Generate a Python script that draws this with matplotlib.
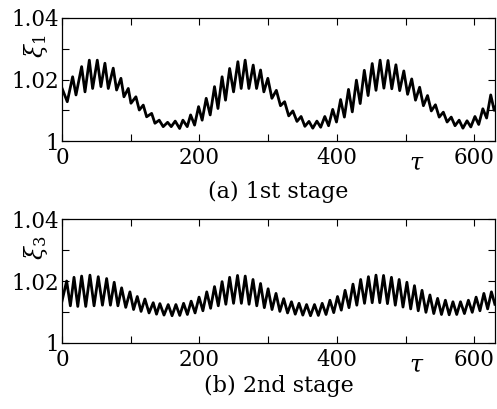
import matplotlib
matplotlib.use('Agg')
import matplotlib.pyplot as plt

# extrema of xi_1 (1st stage): tau, value
tau1 = [0, 7.7, 15.5, 20.4, 28.6, 33.5, 39.8, 44.6, 51.4, 56.7,
        62.5, 67.4, 74.6, 79.5, 85.8, 90.2, 96.5, 100.4, 107.6, 112.5,
        118.3, 123.2, 130.5, 135.3, 141.5, 147.3, 153.7, 159, 164.8, 171.2,
        176, 182.3, 187.2, 193, 198.8, 204, 209.9, 215.7, 222, 227,
        233, 238, 244, 249.7, 256, 260.8, 266.6, 272, 278.3, 283.2,
        289, 293.8, 299.6, 305.5, 312, 318, 324, 330, 336, 342,
        348, 353.5, 359.5, 365, 371, 376.5, 382.5, 388, 394, 399.5,
        405.5, 411, 417, 422.5, 428.5, 434, 440, 445.5, 451.5, 457,
        463, 468.5, 474.5, 480, 486, 491.5, 497.5, 503, 509, 514.5,
        520.5, 526, 532, 537.5, 543.5, 549, 555, 560.5, 566.5, 572,
        578, 583.5, 589.5, 595, 601, 606.5, 612.5, 618, 624, 629,
        630]
xi1 = [1.0172, 1.0128, 1.0209, 1.0150, 1.0242, 1.0160, 1.0263, 1.0171, 1.0263, 1.0177,
       1.0253, 1.0171, 1.0237, 1.0166, 1.0204, 1.0144, 1.0171, 1.0123, 1.0144, 1.0101,
       1.0117, 1.0079, 1.0090, 1.0058, 1.0068, 1.0047, 1.0061, 1.0047, 1.0065, 1.0041,
       1.0068, 1.0047, 1.0085, 1.0052, 1.0112, 1.0068, 1.0139, 1.0085, 1.0177, 1.0106,
       1.0209, 1.0133, 1.0236, 1.0160, 1.0258, 1.0171, 1.0263, 1.0171, 1.0247, 1.0171,
       1.0231, 1.0160, 1.0204, 1.0139, 1.0165, 1.0115, 1.0128, 1.0082, 1.0098, 1.0064,
       1.0080, 1.0048, 1.0064, 1.0042, 1.0065, 1.0045, 1.0080, 1.0050, 1.0103, 1.0062,
       1.0135, 1.0078, 1.0168, 1.0095, 1.0198, 1.0122, 1.0230, 1.0148, 1.0252, 1.0165,
       1.0263, 1.0172, 1.0262, 1.0170, 1.0248, 1.0164, 1.0228, 1.0152, 1.0202, 1.0133,
       1.0175, 1.0115, 1.0148, 1.0098, 1.0118, 1.0078, 1.0094, 1.0062, 1.0078, 1.0050,
       1.0068, 1.0042, 1.0066, 1.0046, 1.0080, 1.0054, 1.0105, 1.0075, 1.0150, 1.0100,
       1.0110]

# extrema of xi_3 (2nd stage)
tau3 = [0, 6.8, 12.2, 17.5, 23, 28.6, 34.6, 40.7, 46.7, 52.8,
        58.9, 65, 70.5, 76, 81.4, 86.8, 92.8, 98.9, 104.2, 109.6,
        115.1, 120.7, 126.7, 132.8, 137.6, 142.5, 148.5, 154.6, 160.2, 165.8,
        171.4, 177, 182.5, 188, 193.7, 199.5, 205.1, 210.7, 216.3, 222,
        227.5, 233, 238.5, 244, 249.7, 255.5, 261.1, 266.7, 272.3, 278,
        283.5, 289, 294.5, 300, 305.7, 311.5, 317.1, 322.7, 328.3, 334,
        339.5, 345, 350.5, 356, 361.7, 367.5, 373.1, 378.7, 384.3, 390,
        395.5, 401, 406.5, 412, 417.7, 423.5, 429.1, 434.7, 440.3, 446,
        451.5, 457, 462.5, 468, 473.7, 479.5, 485.1, 490.7, 496.3, 502,
        507.5, 513, 518.5, 524, 529.7, 535.5, 541.1, 546.7, 552.3, 558,
        563.5, 569, 574.5, 580, 585.7, 591.5, 597.1, 602.7, 608.3, 614,
        619.5, 625, 630]
xi3 = [1.0135, 1.0200, 1.0120, 1.0212, 1.0118, 1.0216, 1.0118, 1.0219, 1.0120, 1.0214,
       1.0122, 1.0208, 1.0122, 1.0196, 1.0120, 1.0178, 1.0115, 1.0165, 1.0108, 1.0150,
       1.0102, 1.0142, 1.0097, 1.0130, 1.0093, 1.0127, 1.0090, 1.0124, 1.0088, 1.0124,
       1.0089, 1.0128, 1.0092, 1.0135, 1.0097, 1.0148, 1.0104, 1.0165, 1.0112, 1.0182,
       1.0120, 1.0198, 1.0125, 1.0212, 1.0128, 1.0218, 1.0128, 1.0216, 1.0125, 1.0205,
       1.0120, 1.0192, 1.0114, 1.0175, 1.0108, 1.0160, 1.0102, 1.0143, 1.0097, 1.0133,
       1.0093, 1.0128, 1.0090, 1.0124, 1.0088, 1.0124, 1.0089, 1.0128, 1.0092, 1.0138,
       1.0098, 1.0150, 1.0106, 1.0170, 1.0114, 1.0190, 1.0122, 1.0205, 1.0128, 1.0214,
       1.0130, 1.0219, 1.0130, 1.0218, 1.0127, 1.0212, 1.0122, 1.0205, 1.0116, 1.0196,
       1.0110, 1.0185, 1.0104, 1.0170, 1.0099, 1.0155, 1.0095, 1.0144, 1.0092, 1.0138,
       1.0091, 1.0133, 1.0092, 1.0133, 1.0095, 1.0138, 1.0099, 1.0148, 1.0104, 1.0160,
       1.0110, 1.0165, 1.0125]

xticks = [0, 100, 200, 300, 400, 500, 600]
xtick_labels = ['0', '', '200', '', '400', '', '600']
yticks = [1.0, 1.01, 1.02, 1.03, 1.04]
ytick_labels = ['1', '', '1.02', '', '1.04']

plt.rcParams['font.family'] = 'DejaVu Serif'
plt.rcParams['mathtext.fontset'] = 'dejavuserif'

fig = plt.figure(figsize=(4.97, 4.09), dpi=100)
ax1 = fig.add_axes([0.1247, 0.655, 0.871, 0.301])
ax2 = fig.add_axes([0.1247, 0.1614, 0.871, 0.303])

panels = [(ax1, tau1, xi1, r'$\xi_1$', '(a) 1st stage', -0.41),
          (ax2, tau3, xi3, r'$\xi_3$', '(b) 2nd stage', -0.35)]

for ax, t, x, ylab, caption, cap_y in panels:
    ax.plot(t, x, color='black', linewidth=2.0, solid_joinstyle='round')
    ax.set_xlim(0, 630)
    ax.set_ylim(1.0, 1.04)
    ax.set_xticks(xticks)
    ax.set_xticklabels(xtick_labels)
    ax.set_yticks(yticks)
    ax.set_yticklabels(ytick_labels)
    ax.tick_params(direction='in', top=True, right=True, length=5, width=0.8,
                   labelsize=15.5)
    ax.tick_params(axis='x', pad=4)
    ax.tick_params(axis='y', pad=2)
    for s in ax.spines.values():
        s.set_linewidth(0.9)
    # y label sits inside the tick label column
    ax.text(-0.06, 0.77, ylab, transform=ax.transAxes, rotation=90,
            ha='center', va='center', fontsize=17)
    # tau marker between 400 and 600
    ax.text(516, -0.18, r'$\tau$', transform=ax.get_xaxis_transform(),
            ha='center', va='center', fontsize=17)
    ax.text(0.5, cap_y, caption, transform=ax.transAxes, ha='center',
            va='center', fontsize=16)

fig.savefig('out.png', dpi=100)
